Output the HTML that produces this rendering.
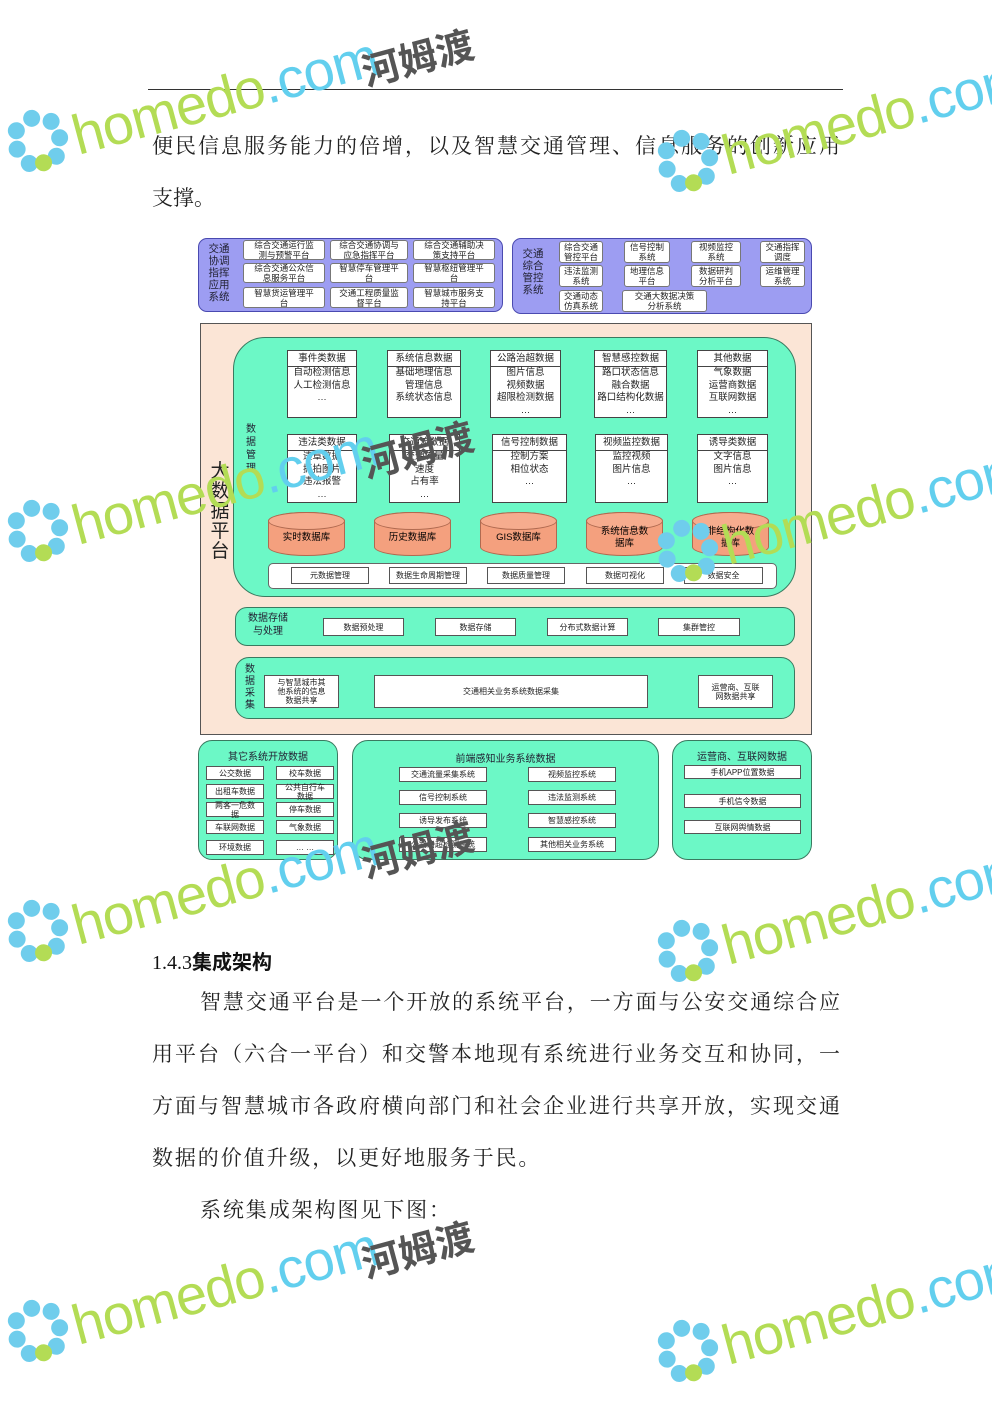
<!DOCTYPE html>
<html><head><meta charset="utf-8"><style>
*{margin:0;padding:0;box-sizing:border-box}
body{width:992px;height:1403px;background:#fff;position:relative;overflow:hidden;font-family:"Liberation Sans","Noto Sans CJK SC",sans-serif}
.a{position:absolute}
.t{position:absolute;font-family:"Liberation Serif","Noto Serif CJK SC",serif;font-size:21px;color:#222;text-align:justify;text-align-last:justify;white-space:nowrap;line-height:24px}
.b{position:absolute;background:#fff;border:1px solid #555;font-size:8px;line-height:9px;text-align:center;display:flex;align-items:center;justify-content:center;color:#222}
.pb{position:absolute;background:#fff;border:1px solid #777;border-radius:3px;font-size:8.5px;line-height:10px;text-align:center;display:flex;align-items:center;justify-content:center;color:#222}
.g{position:absolute;background:#6cf8c6;border:1.5px solid #3a7a60}
.d{position:absolute;background:#fff;border:1px solid #444;font-size:9.5px;color:#222;text-align:center;line-height:12.5px}
.d .h{border-bottom:1px solid #444;height:16px;line-height:16px}
.cy{position:absolute;width:77px;height:44px;background:#f4a07e;border:1px solid #b06a50;border-radius:38px/9px;font-size:9.5px;line-height:12px;display:flex;align-items:center;justify-content:center;text-align:center;padding-top:8px}
.cy:before{content:"";position:absolute;left:-1px;right:-1px;top:-1px;height:16px;border:1px solid #b06a50;border-radius:50%;background:#f6ac8e}
.wm{position:absolute;transform:rotate(-15deg);transform-origin:0 0;white-space:nowrap;pointer-events:none}
.wm .h1{font:56px "Liberation Sans",sans-serif;color:#b3dc55;letter-spacing:-1px}
.wm .c1{font:56px "Liberation Sans",sans-serif;color:#62cfee;letter-spacing:-1px}
.wm .fl{display:inline-block;width:62px;height:62px;position:relative;vertical-align:-6px;margin-right:4px}
.wm .fl i{position:absolute;width:17px;height:17px;border-radius:50%;background:#6fcdec}
.hm{position:absolute;font:bold 38px "Noto Sans CJK SC",sans-serif;color:#555;transform:rotate(-15deg)}
</style></head><body>

<div class="a" style="left:148px;top:89px;width:695px;height:1px;background:#333"></div>
<div class="t" style="left:152px;top:134px;width:688px">便民信息服务能力的倍增，以及智慧交通管理、信息服务的创新应用</div>
<div class="t" style="left:152px;top:186px;text-align-last:left">支撑。</div>

<div class="a" style="left:198px;top:238px;width:305px;height:74px;background:#9d9df2;border:1.5px solid #4a4ab0;border-radius:9px"></div>
<div class="a" style="left:205px;top:243px;width:28px;font-size:10.5px;line-height:12px;color:#223;text-align:center">交通<br>协调<br>指挥<br>应用<br>系统</div>
<div class="pb" style="left:243px;top:240px;width:82px;height:20px">综合交通运行监<br>测与预警平台</div>
<div class="pb" style="left:330px;top:240px;width:78px;height:20px">综合交通协调与<br>应急指挥平台</div>
<div class="pb" style="left:413px;top:240px;width:82px;height:20px">综合交通辅助决<br>策支持平台</div>
<div class="pb" style="left:243px;top:263px;width:82px;height:20px">综合交通公众信<br>息服务平台</div>
<div class="pb" style="left:330px;top:263px;width:78px;height:20px">智慧停车管理平<br>台</div>
<div class="pb" style="left:413px;top:263px;width:82px;height:20px">智慧枢纽管理平<br>台</div>
<div class="pb" style="left:243px;top:287px;width:82px;height:21px">智慧货运管理平<br>台</div>
<div class="pb" style="left:330px;top:287px;width:78px;height:21px">交通工程质量监<br>督平台</div>
<div class="pb" style="left:413px;top:287px;width:82px;height:21px">智慧城市服务支<br>持平台</div>

<div class="a" style="left:512px;top:238px;width:300px;height:76px;background:#9d9df2;border:1.5px solid #4a4ab0;border-radius:9px"></div>
<div class="a" style="left:520px;top:248px;width:26px;font-size:10.5px;line-height:12px;color:#223;text-align:center">交通<br>综合<br>管控<br>系统</div>
<div class="pb" style="left:559px;top:241px;width:44px;height:22px">综合交通<br>管控平台</div>
<div class="pb" style="left:624px;top:241px;width:46px;height:22px">信号控制<br>系统</div>
<div class="pb" style="left:691px;top:241px;width:50px;height:22px">视频监控<br>系统</div>
<div class="pb" style="left:760px;top:241px;width:45px;height:22px">交通指挥<br>调度</div>
<div class="pb" style="left:559px;top:265px;width:44px;height:22px">违法监测<br>系统</div>
<div class="pb" style="left:624px;top:265px;width:46px;height:22px">地理信息<br>平台</div>
<div class="pb" style="left:691px;top:265px;width:50px;height:22px">数据研判<br>分析平台</div>
<div class="pb" style="left:760px;top:265px;width:45px;height:22px">运维管理<br>系统</div>
<div class="pb" style="left:559px;top:290px;width:44px;height:22px">交通动态<br>仿真系统</div>
<div class="pb" style="left:622px;top:290px;width:85px;height:22px">交通大数据决策<br>分析系统</div>

<div class="a" style="left:200px;top:323px;width:612px;height:412px;background:#fbe5d6;border:1.5px solid #555"></div>
<div class="a" style="left:209px;top:462px;width:22px;font-size:19px;line-height:20px;color:#222;text-align:center">大<br>数<br>据<br>平<br>台</div>
<div class="g" style="left:233px;top:337px;width:563px;height:260px;border-radius:32px"></div>
<div class="a" style="left:246px;top:423px;width:12px;font-size:10px;line-height:13px;color:#223">数<br>据<br>管<br>理</div>

<div class="d" style="left:287px;top:350px;width:70px;height:68px"><div class="h">事件类数据</div>自动检测信息<br>人工检测信息<br>…</div>
<div class="d" style="left:387px;top:350px;width:74px;height:68px"><div class="h">系统信息数据</div>基础地理信息<br>管理信息<br>系统状态信息</div>
<div class="d" style="left:490px;top:350px;width:71px;height:68px"><div class="h">公路治超数据</div>图片信息<br>视频数据<br>超限检测数据<br>…</div>
<div class="d" style="left:594px;top:350px;width:73px;height:68px"><div class="h">智慧感控数据</div>路口状态信息<br>融合数据<br>路口结构化数据<br>…</div>
<div class="d" style="left:697px;top:350px;width:71px;height:68px"><div class="h">其他数据</div>气象数据<br>运营商数据<br>互联网数据<br>…</div>
<div class="d" style="left:287px;top:434px;width:70px;height:69px"><div class="h">违法类数据</div>违章数据<br>抓拍图片<br>违法报警<br>…</div>
<div class="d" style="left:389px;top:434px;width:71px;height:69px"><div class="h">交通流数据</div>交通流量<br>速度<br>占有率<br>…</div>
<div class="d" style="left:492px;top:434px;width:75px;height:69px"><div class="h">信号控制数据</div>控制方案<br>相位状态<br>…</div>
<div class="d" style="left:595px;top:434px;width:73px;height:69px"><div class="h">视频监控数据</div>监控视频<br>图片信息<br>…</div>
<div class="d" style="left:697px;top:434px;width:71px;height:69px"><div class="h">诱导类数据</div>文字信息<br>图片信息<br>…</div>

<div class="cy" style="left:268px;top:512px"><span style="position:relative">实时数据库</span></div>
<div class="cy" style="left:374px;top:512px"><span style="position:relative">历史数据库</span></div>
<div class="cy" style="left:480px;top:512px"><span style="position:relative">GIS数据库</span></div>
<div class="cy" style="left:586px;top:512px"><span style="position:relative">系统信息数<br>据库</span></div>
<div class="cy" style="left:692px;top:512px"><span style="position:relative">非结构化数<br>据库</span></div>

<div class="a" style="left:268px;top:563px;width:509px;height:26px;background:#fff;border:1px solid #666;border-radius:5px"></div>
<div class="b" style="left:291px;top:567px;width:78px;height:17px">元数据管理</div>
<div class="b" style="left:389px;top:567px;width:78px;height:17px">数据生命周期管理</div>
<div class="b" style="left:487px;top:567px;width:78px;height:17px">数据质量管理</div>
<div class="b" style="left:586px;top:567px;width:78px;height:17px">数据可视化</div>
<div class="b" style="left:684px;top:567px;width:79px;height:17px">数据安全</div>

<div class="g" style="left:235px;top:607px;width:560px;height:39px;border-radius:12px"></div>
<div class="a" style="left:248px;top:612px;font-size:10px;line-height:13px;color:#223;text-align:center">数据存储<br>与处理</div>
<div class="b" style="left:323px;top:618px;width:81px;height:18px">数据预处理</div>
<div class="b" style="left:435px;top:618px;width:81px;height:18px">数据存储</div>
<div class="b" style="left:547px;top:618px;width:81px;height:18px">分布式数据计算</div>
<div class="b" style="left:658px;top:618px;width:82px;height:18px">集群管控</div>

<div class="g" style="left:235px;top:657px;width:560px;height:62px;border-radius:14px"></div>
<div class="a" style="left:245px;top:664px;font-size:10px;line-height:12px;color:#223">数<br>据<br>采<br>集</div>
<div class="b" style="left:264px;top:675px;width:75px;height:33px">与智慧城市其<br>他系统的信息<br>数据共享</div>
<div class="b" style="left:374px;top:675px;width:274px;height:33px">交通相关业务系统数据采集</div>
<div class="b" style="left:698px;top:675px;width:75px;height:33px">运营商、互联<br>网数据共享</div>

<div class="g" style="left:198px;top:740px;width:140px;height:120px;border-radius:14px"></div>
<div class="a" style="left:198px;top:748px;width:140px;text-align:center;font-size:10px;color:#223">其它系统开放数据</div>
<div class="b" style="left:206px;top:766px;width:58px;height:14px">公交数据</div>
<div class="b" style="left:276px;top:766px;width:58px;height:14px">校车数据</div>
<div class="b" style="left:206px;top:784px;width:58px;height:15px">出租车数据</div>
<div class="b" style="left:276px;top:784px;width:58px;height:15px">公共自行车<br>数据</div>
<div class="b" style="left:206px;top:802px;width:58px;height:15px">两客一危数<br>据</div>
<div class="b" style="left:276px;top:802px;width:58px;height:15px">停车数据</div>
<div class="b" style="left:206px;top:820px;width:58px;height:14px">车联网数据</div>
<div class="b" style="left:276px;top:820px;width:58px;height:14px">气象数据</div>
<div class="b" style="left:206px;top:840px;width:58px;height:15px">环境数据</div>
<div class="b" style="left:276px;top:840px;width:58px;height:15px">… …</div>

<div class="g" style="left:352px;top:740px;width:307px;height:120px;border-radius:16px"></div>
<div class="a" style="left:352px;top:750px;width:307px;text-align:center;font-size:10px;color:#223">前端感知业务系统数据</div>
<div class="b" style="left:399px;top:767px;width:88px;height:15px">交通流量采集系统</div>
<div class="b" style="left:528px;top:767px;width:88px;height:15px">视频监控系统</div>
<div class="b" style="left:399px;top:790px;width:88px;height:15px">信号控制系统</div>
<div class="b" style="left:528px;top:790px;width:88px;height:15px">违法监测系统</div>
<div class="b" style="left:399px;top:813px;width:88px;height:15px">诱导发布系统</div>
<div class="b" style="left:528px;top:813px;width:88px;height:15px">智慧感控系统</div>
<div class="b" style="left:399px;top:837px;width:88px;height:15px">公路治超检测系统</div>
<div class="b" style="left:528px;top:837px;width:88px;height:15px">其他相关业务系统</div>

<div class="g" style="left:672px;top:740px;width:140px;height:120px;border-radius:16px"></div>
<div class="a" style="left:672px;top:748px;width:140px;text-align:center;font-size:10px;color:#223">运营商、互联网数据</div>
<div class="b" style="left:684px;top:765px;width:117px;height:14px">手机APP位置数据</div>
<div class="b" style="left:684px;top:794px;width:117px;height:14px">手机信令数据</div>
<div class="b" style="left:684px;top:820px;width:117px;height:14px">互联网舆情数据</div>

<div class="a" style="left:152px;top:946px;font:20px 'Liberation Serif','Noto Serif CJK SC',serif;color:#111">1.4.3<b style="font-family:'Noto Sans CJK SC',sans-serif;font-weight:bold">集成架构</b></div>
<div class="t" style="left:200px;top:990px;width:640px">智慧交通平台是一个开放的系统平台，一方面与公安交通综合应</div>
<div class="t" style="left:152px;top:1042px;width:688px">用平台（六合一平台）和交警本地现有系统进行业务交互和协同，一</div>
<div class="t" style="left:152px;top:1094px;width:688px">方面与智慧城市各政府横向部门和社会企业进行共享开放，实现交通</div>
<div class="t" style="left:152px;top:1146px;text-align-last:left;letter-spacing:1.9px">数据的价值升级，以更好地服务于民。</div>
<div class="t" style="left:200px;top:1198px;text-align-last:left;letter-spacing:1.9px">系统集成架构图见下图：</div>

<!-- watermarks -->
<div class="wm" style="left:0px;top:118px"><span class="fl"><i style="left:22px;top:0"></i><i style="left:40px;top:8px"></i><i style="left:44px;top:26px"></i><i style="left:4px;top:8px"></i><i style="left:0;top:26px"></i><i style="left:8px;top:43px"></i><i style="left:36px;top:43px"></i><i style="left:22px;top:46px;background:#b3dc55"></i></span><span class="h1">homedo</span><span class="c1">.com</span></div>
<div class="hm" style="left:360px;top:28px">河姆渡</div>
<div class="wm" style="left:650px;top:138px"><span class="fl"><i style="left:22px;top:0"></i><i style="left:40px;top:8px"></i><i style="left:44px;top:26px"></i><i style="left:4px;top:8px"></i><i style="left:0;top:26px"></i><i style="left:8px;top:43px"></i><i style="left:36px;top:43px"></i><i style="left:22px;top:46px;background:#b3dc55"></i></span><span class="h1">homedo</span><span class="c1">.com</span></div>
<div class="wm" style="left:0px;top:508px"><span class="fl"><i style="left:22px;top:0"></i><i style="left:40px;top:8px"></i><i style="left:44px;top:26px"></i><i style="left:4px;top:8px"></i><i style="left:0;top:26px"></i><i style="left:8px;top:43px"></i><i style="left:36px;top:43px"></i><i style="left:22px;top:46px;background:#b3dc55"></i></span><span class="h1">homedo</span><span class="c1">.com</span></div>
<div class="hm" style="left:360px;top:420px">河姆渡</div>
<div class="wm" style="left:650px;top:528px"><span class="fl"><i style="left:22px;top:0"></i><i style="left:40px;top:8px"></i><i style="left:44px;top:26px"></i><i style="left:4px;top:8px"></i><i style="left:0;top:26px"></i><i style="left:8px;top:43px"></i><i style="left:36px;top:43px"></i><i style="left:22px;top:46px;background:#b3dc55"></i></span><span class="h1">homedo</span><span class="c1">.com</span></div>
<div class="wm" style="left:0px;top:908px"><span class="fl"><i style="left:22px;top:0"></i><i style="left:40px;top:8px"></i><i style="left:44px;top:26px"></i><i style="left:4px;top:8px"></i><i style="left:0;top:26px"></i><i style="left:8px;top:43px"></i><i style="left:36px;top:43px"></i><i style="left:22px;top:46px;background:#b3dc55"></i></span><span class="h1">homedo</span><span class="c1">.com</span></div>
<div class="hm" style="left:360px;top:820px">河姆渡</div>
<div class="wm" style="left:650px;top:928px"><span class="fl"><i style="left:22px;top:0"></i><i style="left:40px;top:8px"></i><i style="left:44px;top:26px"></i><i style="left:4px;top:8px"></i><i style="left:0;top:26px"></i><i style="left:8px;top:43px"></i><i style="left:36px;top:43px"></i><i style="left:22px;top:46px;background:#b3dc55"></i></span><span class="h1">homedo</span><span class="c1">.com</span></div>
<div class="wm" style="left:0px;top:1308px"><span class="fl"><i style="left:22px;top:0"></i><i style="left:40px;top:8px"></i><i style="left:44px;top:26px"></i><i style="left:4px;top:8px"></i><i style="left:0;top:26px"></i><i style="left:8px;top:43px"></i><i style="left:36px;top:43px"></i><i style="left:22px;top:46px;background:#b3dc55"></i></span><span class="h1">homedo</span><span class="c1">.com</span></div>
<div class="hm" style="left:360px;top:1220px">河姆渡</div>
<div class="wm" style="left:650px;top:1328px"><span class="fl"><i style="left:22px;top:0"></i><i style="left:40px;top:8px"></i><i style="left:44px;top:26px"></i><i style="left:4px;top:8px"></i><i style="left:0;top:26px"></i><i style="left:8px;top:43px"></i><i style="left:36px;top:43px"></i><i style="left:22px;top:46px;background:#b3dc55"></i></span><span class="h1">homedo</span><span class="c1">.com</span></div>
</body></html>
